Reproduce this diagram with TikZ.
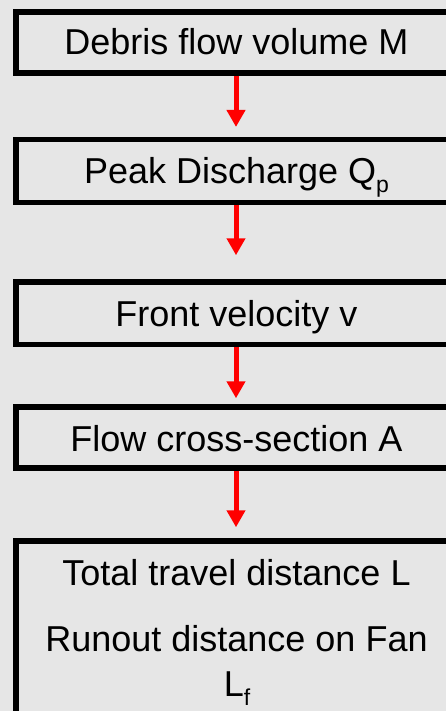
\documentclass[tikz,border=0pt]{standalone}
\usepackage{fontspec}
\setmainfont{Liberation Sans}
\usetikzlibrary{arrows.meta}
\definecolor{bg}{RGB}{230,230,230}
\newcommand{\subsc}[1]{\raisebox{-8.5pt}{\fontsize{23}{23}\selectfont #1}}
\begin{document}
\begin{tikzpicture}[x=1pt,y=-1pt,
  box/.style={draw=black, line width=5.5pt, fill=bg, minimum width=440pt, inner sep=0pt},
  lbl/.style={anchor=base, inner sep=0pt, font=\fontsize{36}{36}\selectfont},
  arr/.style={draw=red, line width=5pt, -{Triangle[width=18pt,length=17pt]}}]
\fill[bg] (0,0) rectangle (446,711);
\useasboundingbox (0,0) rectangle (446,711);
\begin{scope}
\clip (0,0) rectangle (446,711);
\node[box, minimum height=61pt] (b1) at (236,42.5) {};
\node[box, minimum height=62.8pt] (b2) at (236,171.1) {};
\node[box, minimum height=62.7pt] (b3) at (236,313.35) {};
\node[box, minimum height=61pt] (b4) at (236,437.5) {};
\node[box, minimum height=219pt] (b5) at (236,650.5) {};
\node[lbl] (t1) at (236.5,55) {Debris flow volume M};
\node[lbl] (t2) at (236.5,184) {Peak Discharge Q\subsc{p}};
\node[lbl] (t3) at (236.5,326) {Front velocity v};
\node[lbl] (t4) at (236.5,451.7) {Flow cross-section A};
\node[lbl] (t5a) at (236.5,585) {Total travel distance L};
\node[lbl] (t5b) at (236.5,651.7) {Runout distance on Fan};
\node[lbl] (t5c) at (237,696.7) {L\subsc{f}};
\draw[arr, shorten >=10pt] (b1.south) -- (b2.north);
\draw[arr, shorten >=24pt] (b2.south) -- (b3.north);
\draw[arr, shorten >=6pt] (b3.south) -- (b4.north);
\draw[arr, shorten >=11pt] (b4.south) -- (b5.north);
\end{scope}
\end{tikzpicture}
\end{document}
